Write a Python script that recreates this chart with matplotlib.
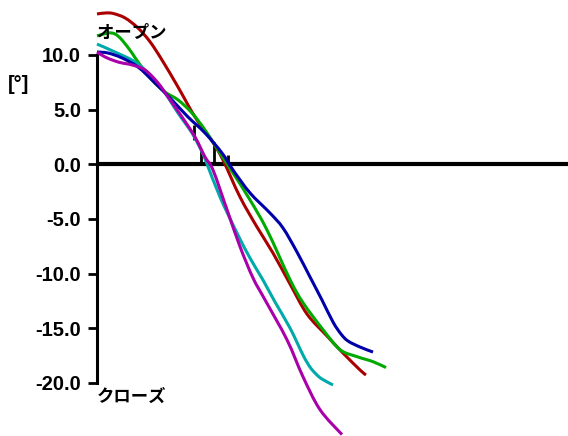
#!/usr/bin/env python3
"""
Valve angle traces: five runs from open (top) to closed (bottom)
"""
import numpy as np
import matplotlib
matplotlib.use("Agg")
import matplotlib.pyplot as plt
from matplotlib.path import Path
from matplotlib.patches import PathPatch

# time axis samples (arbitrary units) and angle [deg] per run
t_red = [0, 8, 16, 28, 41, 53, 65, 81, 98, 115, 126, 143, 160, 176, 193, 210, 230, 246, 263, 269]
y_red = [13.75, 13.84, 13.80, 13.39, 12.47, 11.21, 9.54, 7.07, 4.33, 2.13, 0.39, -2.99, -5.74,
         -8.12, -10.95, -13.70, -15.71, -17.27, -18.82, -19.28]

t_green = [0, 11, 18, 25, 35, 41, 55, 68, 81, 95, 108, 121, 136, 153, 170, 193, 206, 226, 243, 260, 276, 289]
y_green = [11.74, 12.01, 11.92, 11.37, 10.18, 9.36, 7.71, 6.61, 5.89, 4.69, 3.14, 1.31, -0.80,
           -3.26, -6.01, -10.55, -12.66, -15.13, -16.96, -17.60, -18.06, -18.60]

t_cyan = [0, 18, 38, 55, 68, 81, 95, 105, 110, 123, 140, 153, 166, 178, 193, 206, 213, 219, 225, 236]
y_cyan = [11.00, 10.27, 9.36, 7.99, 6.53, 4.69, 2.86, 1.13, 0.03, -2.99, -6.29, -8.58, -10.59,
          -12.60, -14.98, -17.45, -18.55, -19.19, -19.65, -20.19]

t_navy = [0, 11, 25, 41, 58, 75, 91, 108, 125, 136, 153, 173, 186, 200, 213, 225, 236, 244, 251, 263, 276]
y_navy = [10.27, 10.18, 9.73, 8.90, 7.44, 5.88, 4.33, 2.86, 1.03, -0.52, -2.62, -4.46, -5.83,
          -8.03, -10.31, -12.42, -14.43, -15.53, -16.17, -16.72, -17.18]

t_magenta = [0, 8, 18, 25, 35, 48, 61, 71, 85, 98, 108, 116, 130, 143, 156, 168, 190, 206, 223, 245]
y_magenta = [10.27, 9.82, 9.45, 9.27, 9.09, 8.63, 7.44, 6.16, 4.33, 2.50, 0.67, -0.52, -4.15,
             -7.53, -10.40, -12.40, -16.06, -19.44, -22.45, -24.73]

# short black markers near the zero crossing
marker_t = [97, 104, 117, 131]
marker_top = [3.6, 1.3, 2.0, 0.85]
marker_bottom = [2.2, 0.0, 0.2, -0.25]

yticks = [10, 5, 0, -5, -10, -15, -20]
ytick_labels = ["10.0", "5.0", "0.0", "-5.0", "-10.0", "-15.0", "-20.0"]


def smooth_path(t, y):
    """Cubic Bezier path through the points (Catmull-Rom style tangents)"""
    p = np.column_stack([t, y]).astype(float)
    n = len(p)
    verts = [p[0]]
    codes = [Path.MOVETO]
    for i in range(n - 1):
        p0 = p[i - 1] if i > 0 else p[i]
        p3 = p[i + 2] if i + 2 < n else p[i + 1]
        c1 = p[i] + (p[i + 1] - p0) / 6.0
        c2 = p[i + 1] - (p3 - p[i]) / 6.0
        verts += [c1, c2, p[i + 1]]
        codes += [Path.CURVE4] * 3
    return Path(verts, codes)


plt.rcParams['font.family'] = ['Liberation Sans', 'DejaVu Sans']

fig = plt.figure(figsize=(5.68, 4.36), dpi=100)
ax = fig.add_axes([97 / 568, 0.0, 1 - 97 / 568, 1.0])
ax.set_xlim(0, 471)
ax.set_ylim(-24.86, 15.03)

ax.axhline(0, color='black', lw=3.0, zorder=1)

series = [
    (t_red, y_red, '#aa0000'),
    (t_green, y_green, '#00aa00'),
    (t_cyan, y_cyan, '#00aaaa'),
    (t_navy, y_navy, '#0000aa'),
    (t_magenta, y_magenta, '#aa00aa'),
]
for t, y, c in series:
    patch = PathPatch(smooth_path(t, y), facecolor='none', edgecolor=c, lw=2.2,
                      capstyle='butt', clip_on=False, zorder=3)
    ax.add_patch(patch)

ax.vlines(marker_t, marker_bottom, marker_top, color='black', lw=2.0, zorder=2)

for s in ['top', 'right', 'bottom']:
    ax.spines[s].set_visible(False)
ax.spines['left'].set_linewidth(2.2)
ax.spines['left'].set_bounds(-20, 10)
ax.set_xticks([])
ax.set_yticks(yticks)
ax.set_yticklabels(ytick_labels, fontsize=14.5, fontweight='bold')
ax.tick_params(axis='y', length=6.5, width=2, pad=5)

jp = ['Noto Sans CJK JP', 'DejaVu Sans']
ax.text(0, 12.0, "オープン", family=jp, fontsize=12.5, fontweight='bold',
        ha='left', va='center', clip_on=False)
ax.text(0, -21.3, "クローズ", family=jp, fontsize=12.5, fontweight='bold',
        ha='left', va='center', clip_on=False)
fig.text(19 / 568, 1 - 85 / 436, "[°]", fontsize=14.5, fontweight='bold',
         ha='center', va='center')

fig.savefig('out.png', dpi=100)
